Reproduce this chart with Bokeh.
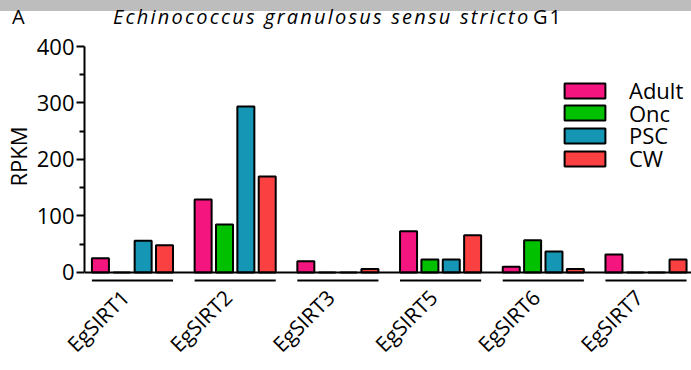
from math import pi
from bokeh.plotting import figure
from bokeh.models import Range1d, FixedTicker, Legend, LegendItem, Span, Div, Title
from bokeh.layouts import column
from bokeh.embed import file_html
from bokeh.resources import INLINE

genes = ["EgSIRT1", "EgSIRT2", "EgSIRT3", "EgSIRT5", "EgSIRT6", "EgSIRT7"]
stages = ["Adult", "Onc", "PSC", "CW"]
adult = [25, 129, 20, 73, 10, 32]
onc = [0, 85, 0, 23, 57, 0]
psc = [56, 294, 0, 23, 37, 0]
cw = [48, 170, 6, 66, 6, 23]
colors = ["#f5157e", "#00c000", "#1496b4", "#fa4040"]
y_ticks = [0, 100, 200, 300, 400]
y_minor = [50, 150, 250, 350]
panel_letter = "A"
title_species = "Echinococcus granulosus sensu stricto"
title_genotype = "G1"
y_label = "RPKM"

FONT = "Open Sans"
HEAD = 31           # header div height (page px)
FL = 84             # frame left (page px)
FT, FB = 36, 293    # frame top / bottom (page px)

txt = "position:absolute;top:6px;line-height:22px;white-space:nowrap;color:black;" \
      "font-family:'Open Sans';font-size:20px;"
header_html = (
    f'<div style="position:relative;width:691px;height:{HEAD}px;">'
    '<div style="position:absolute;left:0;top:0;width:691px;height:11px;background:#bdbdbd;"></div>'
    f'<span style="{txt}left:12px;">{panel_letter}</span>'
    f'<span style="{txt}left:113px;font-style:italic;letter-spacing:2.2px;">{title_species}</span>'
    f'<span style="{txt}left:533px;letter-spacing:2px;">{title_genotype}</span>'
    '</div>'
)
header = Div(text=header_html, width=691, height=HEAD, margin=0)

p = figure(width=691, height=370 - HEAD, output_backend="svg", toolbar_location=None,
           x_range=Range1d(-0.467, 5.443), y_range=Range1d(-37.2, 417.7),
           min_border_left=FL, min_border_right=0, min_border_top=FT - HEAD,
           min_border_bottom=370 - FB, margin=0)
p.xgrid.visible = False
p.ygrid.visible = False
p.outline_line_color = None

ax = p.yaxis[0]
ax.bounds = (0, 400)
ax.ticker = FixedTicker(ticks=y_ticks, minor_ticks=y_minor)
ax.axis_line_width = 2
ax.major_tick_line_width = 2
ax.minor_tick_line_width = 2
ax.major_tick_in = 0
ax.major_tick_out = 8
ax.minor_tick_in = 0
ax.minor_tick_out = 5
ax.major_label_text_font = FONT
ax.major_label_text_font_size = "22px"
ax.major_label_text_color = "black"
ax.major_label_standoff = 2

p.add_layout(Title(text=y_label, align="right", offset=90, vertical_align="middle",
                   standoff=0, text_font=FONT, text_font_size="22px",
                   text_font_style="normal", text_color="black"), "left")

xa = p.xaxis[0]
idx = list(range(len(genes)))
label_pos = [i - 0.07 for i in idx]
xa.ticker = FixedTicker(ticks=label_pos, minor_ticks=[])
xa.major_label_overrides = {t: g for t, g in zip(label_pos, genes)}
xa.major_label_orientation = pi / 4
xa.axis_line_color = None
xa.major_tick_line_color = None
xa.major_tick_in = 0
xa.major_tick_out = 0
xa.minor_tick_line_color = None
xa.major_label_standoff = 0
xa.major_label_text_font = FONT
xa.major_label_text_font_size = "21px"
xa.major_label_text_color = "black"

offsets = [-0.312, -0.104, 0.104, 0.312]
series = [adult, onc, psc, cw]
rends = []
for s, vals, col, off in zip(stages, series, colors, offsets):
    r = p.vbar(x=[i + off for i in idx], top=vals, bottom=0, width=0.1655,
               fill_color=col, line_color="black", line_width=2)
    rends.append(r)

p.add_layout(Span(location=0, dimension="width", line_color="black", line_width=2))

p.segment(x0=[i - 0.395 for i in idx], x1=[i + 0.395 for i in idx],
          y0=[-14] * len(idx), y1=[-14] * len(idx), line_color="black", line_width=2)

row_centers = [89, 111.5, 134, 157]
for s, r, c in zip(stages, rends, row_centers):
    lg = Legend(items=[LegendItem(label=s, renderers=[r])],
                location=(475, FB - c - 16), glyph_width=51, glyph_height=19,
                label_text_font=FONT, label_text_font_size="22px", label_standoff=19,
                label_text_color="black",
                spacing=0, padding=0, margin=0, label_height=14,
                border_line_color=None, background_fill_alpha=0)
    p.add_layout(lg)

layout = column(header, p, spacing=0)
open("out.html", "w").write(file_html(layout, INLINE))
